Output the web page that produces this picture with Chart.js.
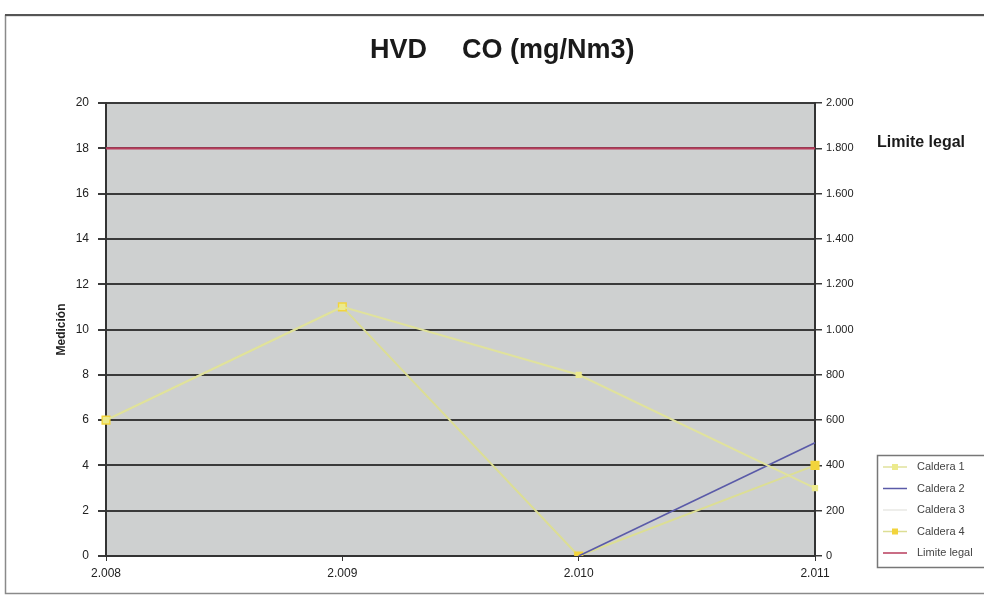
<!DOCTYPE html>
<html>
<head>
<meta charset="utf-8">
<script src="https://cdn.jsdelivr.net/npm/chart.js@4/dist/chart.umd.min.js"></script>
<style>
  html, body { margin: 0; padding: 0; background: #ffffff; }
  #wrap { width: 984px; height: 601px; position: relative; }
</style>
</head>
<body>
<div id="wrap"><canvas id="c" width="984" height="601"></canvas></div>
<script>
// Años de medición
const years = ['2.008', '2.009', '2.010', '2.011'];

// Mediciones de CO por caldera (mg/Nm3)
const caldera1 = [6, 11, 8, 3];
const caldera2 = [null, null, 0, 5];
const caldera3 = [null, null, null, null];
const caldera4 = [6, 11, 0, 4];

// Límite legal sobre el eje secundario
const limiteLegal = [1800, 1800, 1800, 1800];

// Rangos de los ejes
const leftMax = 20, leftStep = 2;
const rightMax = 2000, rightStep = 200;

const FONT = "'Liberation Sans', Arial, sans-serif";

function miles(v) {
  return String(Math.round(v)).replace(/\B(?=(\d{3})+(?!\d))/g, '.');
}

// Marco, fondo del área de trazado, título, etiqueta del límite y leyenda
const decor = {
  id: 'decor',
  beforeDraw(chart) {
    const ctx = chart.ctx, a = chart.chartArea;
    ctx.save();
    ctx.fillStyle = '#ffffff';
    ctx.fillRect(0, 0, chart.width, chart.height);
    ctx.strokeStyle = '#8a8a8a';
    ctx.lineWidth = 1.5;
    ctx.strokeRect(5.5, 15.5, 990, 578);
    ctx.strokeStyle = '#555';
    ctx.lineWidth = 2;
    ctx.beginPath(); ctx.moveTo(5, 15); ctx.lineTo(984, 15); ctx.stroke();
    ctx.fillStyle = '#ced0d0';
    ctx.fillRect(a.left, a.top, a.right - a.left, a.bottom - a.top);
    ctx.restore();
  },
  afterDraw(chart) {
    const ctx = chart.ctx;
    ctx.save();
    // título
    ctx.fillStyle = '#1a1a1a';
    ctx.font = 'bold 27px ' + FONT;
    ctx.textBaseline = 'middle';
    ctx.textAlign = 'left';
    ctx.fillText('HVD', 370, 51);
    ctx.fillText('CO (mg/Nm3)', 462, 51);

    // etiqueta del límite legal
    const y1 = chart.scales.y1;
    ctx.font = 'bold 16px ' + FONT;
    ctx.fillText('Limite legal', 877, y1.getPixelForValue(limiteLegal[0]) - 6);

    // leyenda
    const lx = 877, ly = 455, lw = 110, lh = 112;
    ctx.fillStyle = '#ffffff';
    ctx.fillRect(lx, ly, lw, lh);
    ctx.strokeStyle = '#777';
    ctx.lineWidth = 1.5;
    ctx.strokeRect(lx + 0.5, ly + 0.5, lw, lh);
    ctx.font = '11px ' + FONT;
    chart.data.datasets.forEach((ds, i) => {
      const yy = ly + 12 + i * 21.5;
      ctx.strokeStyle = ds.borderColor;
      ctx.lineWidth = 1.5;
      ctx.beginPath(); ctx.moveTo(lx + 6, yy); ctx.lineTo(lx + 30, yy); ctx.stroke();
      if (ds.pointRadius > 0) {
        ctx.fillStyle = ds.pointBackgroundColor;
        ctx.fillRect(lx + 18 - 3, yy - 3, 6, 6);
      }
      ctx.fillStyle = '#444';
      ctx.fillText(ds.label, lx + 40, yy);
    });
    ctx.restore();
  }
};

new Chart(document.getElementById('c'), {
  type: 'line',
  data: {
    labels: years,
    datasets: [
      { label: 'Caldera 1', data: caldera1, yAxisID: 'y',
        borderColor: '#e0e29c', borderWidth: 2,
        pointStyle: 'rect', pointRadius: 3, pointBackgroundColor: '#ecea8c', pointBorderColor: '#ecea8c' },
      { label: 'Caldera 2', data: caldera2, yAxisID: 'y',
        borderColor: '#5a5aa8', borderWidth: 1.6, pointRadius: 0, pointBackgroundColor: '#5a5aa8' },
      { label: 'Caldera 3', data: caldera3, yAxisID: 'y',
        borderColor: '#e8e8e4', borderWidth: 1.5, pointRadius: 0, pointBackgroundColor: '#e8e8e4' },
      { label: 'Caldera 4', data: caldera4, yAxisID: 'y',
        borderColor: '#dcde94', borderWidth: 2,
        pointStyle: 'rect', pointRadius: 5, pointBackgroundColor: '#f2d43c', pointBorderColor: '#f2d43c' },
      { label: 'Limite legal', data: limiteLegal, yAxisID: 'y1',
        borderColor: '#b83c5c', borderWidth: 2.2, pointRadius: 0, pointBackgroundColor: '#b83c5c' }
    ]
  },
  options: {
    responsive: false,
    animation: false,
    spanGaps: false,
    layout: { padding: { left: 44, right: 114, top: 103, bottom: 15 } },
    plugins: {
      legend: { display: false },
      title: { display: false },
      tooltip: { enabled: false }
    },
    scales: {
      x: {
        offset: false,
        grid: { drawOnChartArea: false, drawTicks: true, tickLength: 5, color: '#333', lineWidth: 1 },
        border: { display: true, color: '#333', width: 2 },
        ticks: { color: '#222', font: { family: FONT, size: 12 }, padding: 5, maxRotation: 0 },
        afterFit: s => { s.height = 30; }
      },
      y: {
        position: 'left',
        min: 0, max: leftMax,
        ticks: { stepSize: leftStep, color: '#222', font: { family: FONT, size: 12 }, padding: 9 },
        grid: { color: '#3a3a3a', lineWidth: 2, tickLength: 8, drawTicks: true },
        border: { display: true, color: '#333', width: 2 },
        title: { display: true, text: 'Medición', color: '#222', font: { family: FONT, size: 12, weight: 'bold' }, padding: { top: 10, bottom: 0 } },
        afterFit: s => { s.width = 62; }
      },
      y1: {
        position: 'right',
        min: 0, max: rightMax,
        ticks: { stepSize: rightStep, color: '#222', font: { family: FONT, size: 11 }, padding: 4, callback: v => miles(v) },
        grid: { drawOnChartArea: false, drawTicks: true, tickLength: 7, color: '#3a3a3a', lineWidth: 1.5 },
        border: { display: true, color: '#333', width: 2 },
        afterFit: s => { s.width = 55; }
      }
    }
  },
  plugins: [decor]
});
</script>
</body>
</html>
